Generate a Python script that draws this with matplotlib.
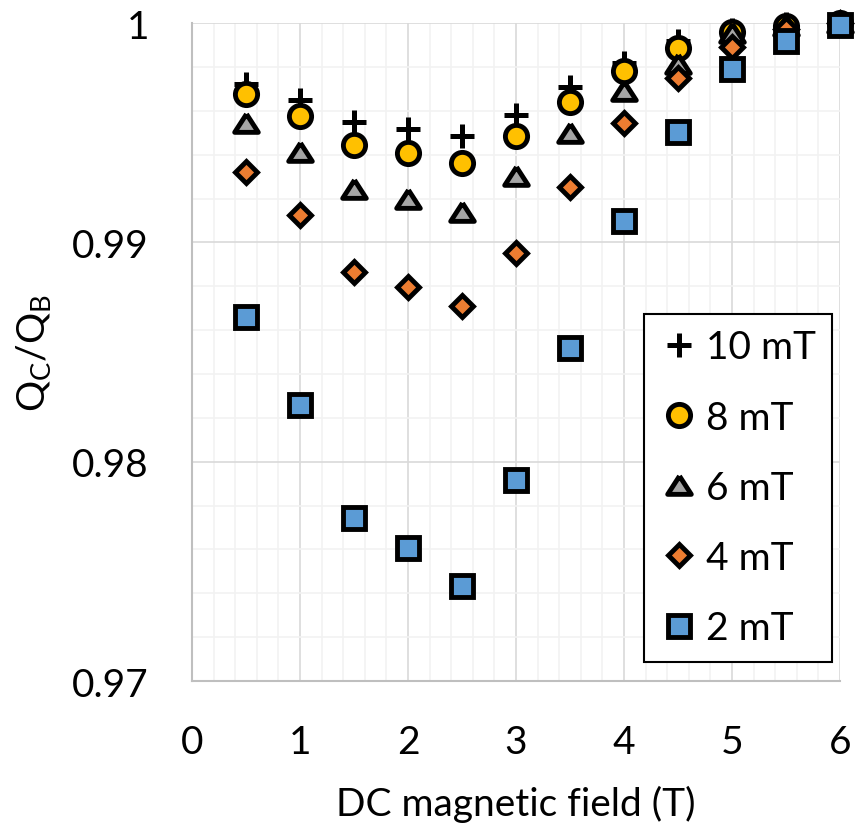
import matplotlib.pyplot as plt
from matplotlib.ticker import MultipleLocator, FuncFormatter

field = [0.5, 1.0, 1.5, 2.0, 2.5, 3.0, 3.5, 4.0, 4.5, 5.0, 5.5, 6.0]

q_10mT = [0.99721, 0.99650, 0.99547, 0.99519, 0.99486, 0.99580, 0.99708, 0.99820, 0.99920, 0.99968, 0.99995, 1.0]
q_8mT = [0.99676, 0.99574, 0.99444, 0.99406, 0.99364, 0.99486, 0.99638, 0.99782, 0.99884, 0.99957, 0.99986, 1.0]
q_6mT = [0.99546, 0.99413, 0.99243, 0.99200, 0.99139, 0.99301, 0.99500, 0.99690, 0.99813, 0.99955, 0.99985, 1.0]
q_4mT = [0.99321, 0.99123, 0.98864, 0.98795, 0.98709, 0.98950, 0.99251, 0.99546, 0.99749, 0.99889, 0.99975, 1.0]
q_2mT = [0.98658, 0.98259, 0.97743, 0.97606, 0.97431, 0.97915, 0.98519, 0.99097, 0.99501, 0.99790, 0.99919, 0.99990]

labels = ['10 mT', '8 mT', '6 mT', '4 mT', '2 mT']

plt.rcParams['font.family'] = ['Lato', 'DejaVu Sans']
plt.rcParams['mathtext.default'] = 'regular'

fig = plt.figure(figsize=(8.59, 8.29), dpi=100)
ax = fig.add_axes([0.2235, 0.1773, 0.7545, 0.7937])

# excel-like wide triangle
tri = [(0, 0.8), (-1, -0.75), (1, -0.75), (0, 0.8)]

ax.plot(field, q_10mT, ls='none', marker='+', ms=17, mew=3.6, color='black',
        label=labels[0], clip_on=False, zorder=3)
ax.plot(field, q_8mT, ls='none', marker='o', ms=16, mew=3.5, mfc='#FFC000', mec='black',
        label=labels[1], clip_on=False, zorder=4)
ax.plot(field, q_6mT, ls='none', marker=tri, ms=17, mew=3.5, mfc='#A5A5A5', mec='black',
        label=labels[2], clip_on=False, zorder=5)
ax.plot(field, q_4mT, ls='none', marker='D', ms=11.5, mew=3.5, mfc='#ED7D31', mec='black',
        label=labels[3], clip_on=False, zorder=6)
ax.plot(field, q_2mT, ls='none', marker='s', ms=16, mew=3.5, mfc='#5B9BD5', mec='black',
        label=labels[4], clip_on=False, zorder=7)

ax.set_xlim(0, 6)
ax.set_ylim(0.97, 1.0)
ax.xaxis.set_major_locator(MultipleLocator(1))
ax.xaxis.set_minor_locator(MultipleLocator(0.2))
ax.yaxis.set_major_locator(MultipleLocator(0.01))
ax.yaxis.set_minor_locator(MultipleLocator(0.002))
ax.yaxis.set_major_formatter(FuncFormatter(lambda v, p: '1' if abs(v - 1) < 1e-9 else '%.2f' % v))

ax.grid(which='major', color='#D9D9D9', lw=1.2, zorder=0)
ax.grid(which='minor', color='#F2F2F2', lw=1.2, zorder=0)
ax.set_axisbelow(True)
ax.tick_params(which='both', length=0)
ax.tick_params(axis='x', labelsize=28, pad=31)
ax.tick_params(axis='y', labelsize=28, pad=31)

for s in ['top', 'right']:
    ax.spines[s].set_visible(False)
for s in ['left', 'bottom']:
    ax.spines[s].set_color('#BFBFBF')
    ax.spines[s].set_linewidth(1.5)

ax.set_xlabel('DC magnetic field (T)', fontsize=28, labelpad=18)
ax.set_ylabel('Q$_C$/Q$_B$', fontsize=28, labelpad=14)

leg = ax.legend(loc='upper left', bbox_to_anchor=(0.6975, 0.558), borderaxespad=0,
                fontsize=28, frameon=True, fancybox=False, edgecolor='black', framealpha=1,
                handletextpad=0.2, labelspacing=0.88, borderpad=0.4, handlelength=1.0)
leg.get_frame().set_linewidth(1.5)

fig.savefig('out.png', dpi=100)
